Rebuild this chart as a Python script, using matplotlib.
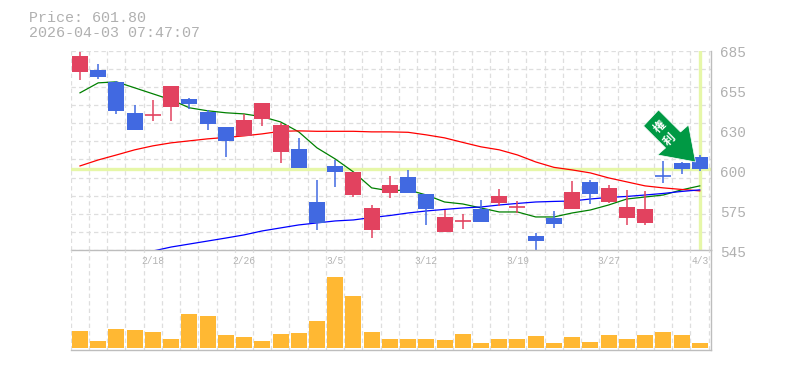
#!/usr/bin/env python3
# -*- coding: utf-8 -*-
import matplotlib
matplotlib.use("Agg")
import numpy as np
import matplotlib.pyplot as plt
from matplotlib.patches import Polygon

# candles, oldest first
opens = [670.3, 671.7, 663.2, 641.5, 639.8, 645.7, 651.3, 642.2, 631.6, 625.3, 637.2, 614.0,
         616.2, 578.9, 604.2, 583.8, 559.3, 585.2, 596.5, 584.5, 557.9, 565.5, 574.0, 578.2,
         575.2, 555.0, 567.7, 574.0, 593.0, 578.9, 567.7, 564.2, 597.3, 606.3, 610.5]
highs = [684.3, 675.9, 663.9, 647.1, 650.6, 660.4, 652.0, 643.6, 631.6, 640.7, 648.5, 634.4,
         623.9, 594.4, 608.4, 600.0, 576.8, 597.2, 601.4, 584.5, 573.3, 570.5, 580.3, 588.1,
         579.6, 557.2, 572.6, 593.7, 594.4, 590.9, 587.4, 586.7, 607.7, 607.0, 611.9]
lows = [664.6, 665.3, 640.7, 629.5, 635.8, 635.8, 644.3, 629.5, 610.5, 625.3, 632.3, 606.3,
        602.8, 559.3, 589.5, 582.4, 553.6, 581.7, 585.2, 562.8, 557.9, 560.0, 564.9, 576.1,
        571.2, 545.2, 560.7, 574.0, 577.5, 578.2, 562.8, 562.8, 592.3, 598.6, 600.7]
closes = [681.5, 666.7, 642.9, 629.5, 640.2, 660.4, 647.8, 633.7, 621.8, 636.5, 648.5, 633.0,
          602.8, 564.2, 600.0, 600.0, 574.7, 590.9, 585.2, 574.0, 568.4, 565.8, 564.9, 583.1,
          575.6, 551.5, 563.5, 586.0, 584.5, 588.8, 575.4, 574.0, 597.1, 602.1, 601.8]
volumes = [17, 7, 19, 18, 16, 9, 34, 32, 13, 11, 7, 14, 15, 27, 71, 52, 16, 9,
           9, 9, 8, 14, 5, 9, 9, 12, 5, 11, 6, 13, 9, 13, 16, 13, 5]

# moving averages
ma_short = [655.5, 662.5, 663.2, 659.0, 654.8, 650.6, 645.0, 642.9, 641.5, 640.7, 638.7, 635.1,
            628.1, 616.9, 609.1, 600.0, 588.8, 586.7, 587.4, 583.8, 578.9, 577.5, 574.7, 571.9,
            571.9, 568.4, 568.4, 571.2, 573.3, 576.8, 581.0, 582.4, 583.8, 587.4, 590.2]
ma_mid = [604.2, 608.4, 611.9, 615.5, 618.3, 620.4, 621.8, 623.2, 624.2, 625.3, 626.7, 628.5,
          628.8, 628.5, 628.5, 628.5, 628.1, 628.1, 627.8, 626.0, 623.9, 620.7, 617.6, 615.5,
          611.9, 607.0, 603.2, 601.4, 599.3, 595.8, 593.0, 590.2, 588.8, 587.7, 586.7]
ma_long = [544.5, 547.3, 549.4, 551.5, 553.6, 555.8, 558.6, 560.7, 562.8, 564.2, 565.6, 566.3,
           568.0, 569.4, 571.2, 572.6, 573.7, 574.7, 575.4, 576.8, 577.9, 578.9, 579.3, 579.6,
           581.0, 582.1, 582.8, 583.8, 584.9, 586.3, 587.4]

price_ticks = [685.2, 657.2, 629.2, 601.2, 573.1, 545.0]
price_labels = ["685", "655", "630", "600", "575", "545"]
date_idx = [4, 9, 14, 19, 24, 29, 34]
date_labels = ["2/18", "2/26", "3/5", "3/12", "3/19", "3/27", "4/3"]
last_price = 601.8
header = ["Price: 601.80", "2026-04-03 07:47:07"]
badge = ["権", "利"]

GREY = "#b0b0b0"
GRID = "#dedede"
RED = "#e2425f"
BLUE = "#4169e1"
HILITE = "#e6f7a8"
W, H = 785, 370
LEFT, RIGHT, TOP, MID, BOT = 70.7, 710.7, 50.5, 250.3, 350.0

plt.rcParams["font.family"] = ["Liberation Mono", "Noto Sans CJK JP"]

fig = plt.figure(figsize=(W / 100, H / 100), dpi=100)
ax = fig.add_axes([LEFT / W, 1 - MID / H, (RIGHT - LEFT) / W, (MID - TOP) / H])
ax_vol = fig.add_axes([LEFT / W, 1 - BOT / H, (RIGHT - LEFT) / W, (BOT - MID) / H])

xs = np.arange(len(closes))
xlim = (-0.51, 34.6)
grid_x = np.linspace(-0.51, 34.49, 36)
grid_y = np.linspace(685.2, 545.0, 12)
dash = (0, (3.5, 2.5))

for a in (ax, ax_vol):
    a.set_xlim(xlim)
    a.set_xticks([])
    a.set_yticks([])
    for s in a.spines.values():
        s.set_visible(False)
    a.patch.set_alpha(0)
    a.vlines(grid_x, 0, 1, transform=a.get_xaxis_transform(), color=GRID, lw=0.9,
             linestyles=dash, zorder=1)
    a.plot([0, 1], [0, 0], transform=a.transAxes, color="#bdbdbd", lw=1.0, clip_on=False, zorder=6)
    a.plot([1, 1], [0, 1], transform=a.transAxes, color="#bdbdbd", lw=1.0, clip_on=False, zorder=6)

ax.set_ylim(545.0, 685.2)
ax.hlines(grid_y, 0, 1, transform=ax.get_yaxis_transform(), color=GRID, lw=0.9,
          linestyles=dash, zorder=1)

# current price / current date highlight
ax.axhline(last_price, color=HILITE, lw=2.4, zorder=2)
ax.axvline(xs[-1], color=HILITE, lw=2.4, zorder=2)

ax.plot(xs, ma_short, color="#008000", lw=0.9, zorder=3)
ax.plot(xs, ma_mid, color="#ff0000", lw=0.9, zorder=3)
ax.plot(xs[4:], ma_long, color="#0000ff", lw=0.9, zorder=3)

# candles: red closes higher, blue closes lower
colors = [RED if c > o else BLUE for o, c in zip(opens, closes)]
ax.vlines(xs, lows, highs, color=colors, lw=1.1, zorder=4)
ax.bar(xs, np.abs(np.array(closes) - np.array(opens)), 0.878,
       bottom=np.minimum(opens, closes), color=colors, lw=0, zorder=4)
for x, o, c, col in zip(xs, opens, closes, colors):
    if abs(o - c) < 1:
        ax.hlines((o + c) / 2, x - 0.44, x + 0.44, color=col, lw=1.2, zorder=4)

for tick, lab in zip(price_ticks, price_labels):
    ax.annotate(lab, (1, tick), xycoords=ax.get_yaxis_transform(), xytext=(7, -1.8),
                textcoords="offset points", color=GREY, fontsize=10.4,
                va="center", ha="left", annotation_clip=False)

ax_vol.set_ylim(-2, 97.7)
ax_vol.bar(xs, volumes, 0.878, color="#ffb833", lw=0, zorder=3)
for i, lab in zip(date_idx, date_labels):
    ax_vol.annotate(lab, (i, 1), xycoords=ax_vol.get_xaxis_transform(), xytext=(0, -7.4),
                    textcoords="offset points", color="#b4b4b4", fontsize=6.9, va="center",
                    ha="center", zorder=7)

fig.text(29 / W, 1 - 18.5 / H, header[0], color=GREY, fontsize=10.8, va="center")
fig.text(29 / W, 1 - 33 / H, header[1], color=GREY, fontsize=10.8, va="center")

# arrow badge, placed relative to the second last candle
fig.canvas.draw()
ax_x, ax_y = ax.transData.transform((33, 607.0))
shape = np.array([(-23, 52), (-38, 36), (-16, 14), (-24, 7), (14, 0), (7, 37), (-1, 30)])
ax.add_patch(Polygon(shape + (ax_x, ax_y), closed=True, transform=None, facecolor="#009944",
                     edgecolor="white", lw=0.5, zorder=5, clip_on=False))
for ch, (dx, dy) in zip(badge, [(-22, 35), (-12, 22)]):
    fig.text((ax_x + dx) / W, (ax_y + dy) / H, ch, color="white", fontsize=8.5, fontweight="bold",
             rotation=45, ha="center", va="center", zorder=6,
             family=["Noto Sans CJK JP", "DejaVu Sans"])

fig.savefig("out.png", dpi=100)
